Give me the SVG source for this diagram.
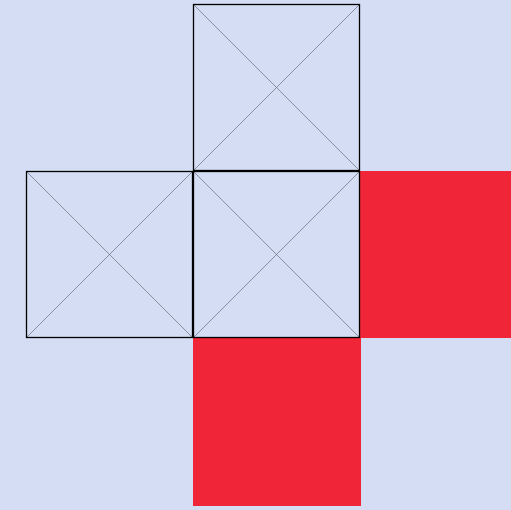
<svg xmlns="http://www.w3.org/2000/svg" width="511" height="510" viewBox="0 0 511 510">
<style>
.sq{fill:none;stroke:#000;stroke-width:1.3}
.dg{stroke:#555a66;stroke-width:0.6}
.red{fill:#f02537}
</style>
<rect width="511" height="510" fill="#d4ddf4"/>
<g id="red-right"><rect class="red" x="360" y="171" width="151" height="167"/></g>
<g id="red-bottom"><rect class="red" x="193" y="338" width="168" height="168"/></g>
<g id="connectors"></g>
<g id="top">
<line class="dg" x1="193.5" y1="4.5" x2="359.5" y2="170.5"/>
<line class="dg" x1="359.5" y1="4.5" x2="193.5" y2="170.5"/>
<rect class="sq" x="193.5" y="4.5" width="166" height="166"/>
</g>
<g id="left">
<line class="dg" x1="26.5" y1="171.5" x2="192.5" y2="337.5"/>
<line class="dg" x1="192.5" y1="171.5" x2="26.5" y2="337.5"/>
<rect class="sq" x="26.5" y="171.5" width="166" height="166"/>
</g>
<g id="center">
<line class="dg" x1="193.5" y1="171.5" x2="359.5" y2="337.5"/>
<line class="dg" x1="359.5" y1="171.5" x2="193.5" y2="337.5"/>
<rect class="sq" x="193.5" y="171.5" width="166" height="166"/>
</g>
</svg>
